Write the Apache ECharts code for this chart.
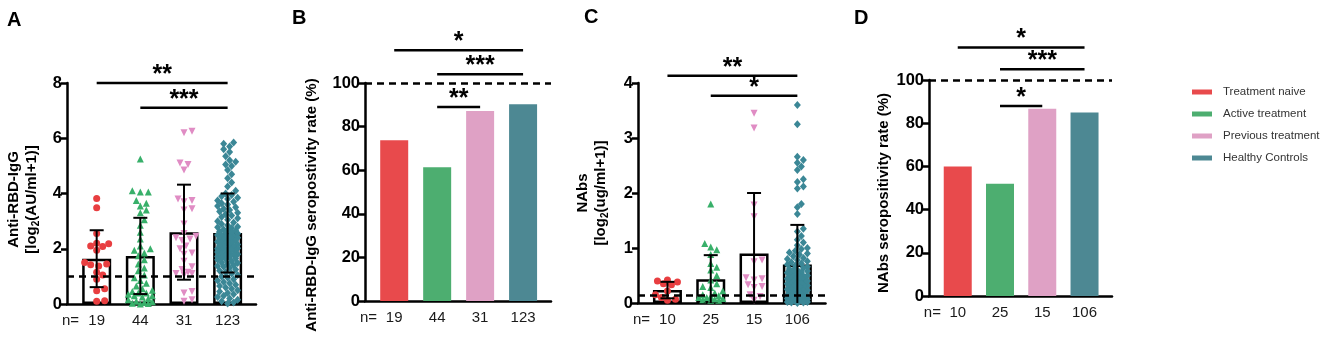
<!DOCTYPE html>
<html>
<head>
<meta charset="utf-8">
<script src="https://cdn.jsdelivr.net/npm/echarts@6/dist/echarts.min.js"></script>
<style>
  html, body { margin: 0; background: #fff; }
  #chart { width: 1325px; height: 337px; }
</style>
</head>
<body>
<div id="chart"></div>
<script>
// groups / legend
const groups = ['Treatment naive', 'Active treatment', 'Previous treatment', 'Healthy Controls'];
const barColors = ['#e84a4c', '#4dae70', '#dfa1c5', '#4d8893'];
const dotColors = ['#e83e40', '#38b06a', '#e08cc4', '#3b8796'];

// sample sizes
const nIgg = [19, 44, 31, 123];
const nNabs = [10, 25, 15, 106];

// A: anti-RBD-IgG, log2(AU/ml+1)
const iggNaive = [3.82, 3.48, 2.55, 2.2, 2.18, 2.1, 2.08, 1.95, 1.5, 1.45, 1.42, 1.38, 1.15, 1.05, 0.9, 0.55, 0.48, 0.12, 0.1];
const iggActive = [5.25, 4.1, 4.05, 4.05, 3.75, 3.65, 3.55, 3.4, 3.3, 3.05, 2.85, 2.6, 2.35, 2.1, 2.0,
  1.95, 1.85, 1.75, 1.6, 1.45, 1.3, 1.2, 1.05, 0.95, 0.85, 0.75, 0.65, 0.55, 0.5, 0.45,
  0.4, 0.4, 0.35, 0.3, 0.3, 0.25, 0.2, 0.15, 0.1, 0.08, 0.05, 0.03, 0.02, 0.0];
const iggPrevious = [6.25, 6.2, 5.1, 5.05, 4.85, 3.8, 3.75, 3.7, 3.45, 3.4, 2.9, 2.55, 2.45, 2.4, 2.35,
  2.3, 2.1, 2.0, 1.85, 1.8, 1.55, 1.35, 1.25, 1.15, 1.1, 1.1, 1.05, 0.45, 0.4, 0.15, 0.1];
const iggHealthy = [5.85, 5.8, 5.7, 5.6, 5.5, 5.35, 5.2, 5.15, 5.05, 5.0,
  4.85, 4.7, 4.55, 4.4, 4.25, 4.1, 4.0, 3.95, 3.9, 3.85,
  3.8, 3.75, 3.7, 3.65, 3.6, 3.55, 3.5, 3.45, 3.4, 3.35,
  3.3, 3.25, 3.2, 3.15, 3.1, 3.05, 3.0, 2.95, 2.9, 2.85,
  2.8, 2.78, 2.75, 2.7, 2.68, 2.65, 2.6, 2.58, 2.55, 2.5,
  2.48, 2.45, 2.42, 2.4, 2.38, 2.35, 2.32, 2.3, 2.28, 2.25,
  2.22, 2.2, 2.18, 2.15, 2.12, 2.1, 2.08, 2.05, 2.02, 2.0,
  1.98, 1.95, 1.92, 1.9, 1.88, 1.85, 1.82, 1.8, 1.78, 1.75,
  1.72, 1.7, 1.68, 1.65, 1.62, 1.6, 1.55, 1.5, 1.48, 1.45,
  1.4, 1.38, 1.35, 1.3, 1.25, 1.2, 1.15, 1.1, 1.05, 1.0,
  0.95, 0.9, 0.85, 0.8, 0.75, 0.7, 0.65, 0.6, 0.55, 0.5,
  0.45, 0.4, 0.35, 0.3, 0.25, 0.2, 0.15, 0.1, 0.05, 0.02,
  2.62, 2.44, 1.96];
const iggMean = [1.64, 1.74, 2.6, 2.57];
const iggSd = [1.03, 1.38, 1.72, 1.43];

// B: anti-RBD-IgG seropositivity (%)
const iggRate = [73.7, 61.4, 87.1, 90.2];

// C: NAbs, log2(ug/ml+1)
const nabsNaive = [0.42, 0.4, 0.38, 0.35, 0.33, 0.22, 0.15, 0.1, 0.07, 0.05];
const nabsActive = [1.8, 1.08, 1.02, 0.97, 0.88, 0.72, 0.65, 0.6, 0.5, 0.42, 0.35, 0.3, 0.28, 0.22, 0.18,
  0.15, 0.13, 0.12, 0.1, 0.1, 0.08, 0.07, 0.06, 0.05, 0.05];
const nabsPrevious = [3.45, 3.18, 1.78, 1.57, 0.78, 0.75, 0.46, 0.44, 0.42, 0.33, 0.3, 0.28, 0.15, 0.12, 0.05];
const nabsHealthy = [3.6, 3.25, 2.66, 2.6, 2.55, 2.48, 2.42, 2.25, 2.2, 2.12,
  2.08, 1.8, 1.74, 1.62, 1.35, 1.3, 1.22, 1.15, 1.1, 1.05,
  1.0, 0.98, 0.95, 0.92, 0.9, 0.88, 0.85, 0.82, 0.8, 0.78,
  0.76, 0.74, 0.72, 0.7, 0.68, 0.66, 0.64, 0.62, 0.6, 0.58,
  0.56, 0.55, 0.54, 0.52, 0.5, 0.49, 0.48, 0.47, 0.46, 0.45,
  0.44, 0.43, 0.42, 0.41, 0.4, 0.39, 0.38, 0.37, 0.36, 0.35,
  0.34, 0.33, 0.32, 0.31, 0.3, 0.29, 0.28, 0.27, 0.26, 0.25,
  0.24, 0.23, 0.22, 0.21, 0.2, 0.19, 0.18, 0.17, 0.16, 0.15,
  0.14, 0.13, 0.12, 0.11, 0.1, 0.09, 0.08, 0.07, 0.06, 0.05,
  0.05, 0.04, 0.04, 0.03, 0.03, 0.02, 0.02, 0.01, 0.01, 0.0,
  0.6, 0.5, 0.45, 0.4, 0.35, 0.3];
const nabsMean = [0.235, 0.43, 0.9, 0.7];
const nabsSd = [0.15, 0.44, 1.1, 0.72];

// D: NAbs seropositivity (%)
const nabsRate = [60, 52, 86.7, 84.9];

// cut-off lines
const cutIgg = 1;
const cutNabs = 0.15;
const cutRate = 100;

// significance brackets: [from group, to group, height]
const sigA = [[0, 3, 8], [1, 3, 7.1]];
const sigALabels = ['**', '***'];
const sigB = [[0, 3, 115], [1, 3, 104], [1, 2, 89]];
const sigBLabels = ['*', '***', '**'];
const sigC = [[0, 3, 4.13], [1, 3, 3.77]];
const sigCLabels = ['**', '*'];
const sigD = [[0, 3, 115], [1, 3, 105], [1, 2, 88]];
const sigDLabels = ['*', '***', '*'];

const FONT = 'Arial, "Liberation Sans", sans-serif';
const X_MIN = -0.68, X_MAX = 3.65;

// nameShift: extra right padding on the rotated axis title, moves it down the axis
const panels = [
  { letter: 'A', grid: { left: 67, top: 83, width: 189, height: 221 }, yMax: 8, yStep: 2, n: nIgg, nameGap: 26, nameShift: 12,
    name: '{b|Anti-RBD-IgG}\n{b|[log}{s|2}{b|(AU/ml+1)]}', title: { left: 7, top: 10 } },
  { letter: 'B', grid: { left: 365, top: 83, width: 186, height: 218 }, yMax: 100, yStep: 20, n: nIgg, nameGap: 44, nameShift: 26,
    name: 'Anti-RBD-IgG seropostivity rate (%)', title: { left: 292, top: 8 } },
  { letter: 'C', grid: { left: 638, top: 83, width: 187.5, height: 220 }, yMax: 4, yStep: 1, n: nNabs, nameGap: 28, nameShift: 0,
    name: '{b|NAbs}\n{b|[log}{s|2}{b|(ug/ml+1)]}', title: { left: 584, top: 7 } },
  { letter: 'D', grid: { left: 929, top: 80, width: 183, height: 216 }, yMax: 100, yStep: 20, n: nNabs, nameGap: 36, nameShift: 10,
    name: 'NAbs seropositivity rate (%)', title: { left: 854, top: 8 } }
];

// simple beeswarm: horizontal pixel offsets so dots do not pile up
function swarm(vals, pxPerY, pxPerX, gap, maxPx) {
  const placed = [];
  const out = new Array(vals.length);
  const order = vals.map((v, i) => i).sort((a, b) => vals[a] - vals[b]);
  order.forEach(i => {
    const y = vals[i] * pxPerY;
    let best = 0, bestD = -1;
    for (let k = 0; ; k++) {
      const off = (k % 2 ? 1 : -1) * Math.ceil(k / 2) * 2;
      if (Math.abs(off) > maxPx) break;
      let d = Infinity;
      placed.forEach(p => { d = Math.min(d, Math.hypot(p[0] - off, p[1] - y)); });
      if (d >= gap) { best = off; bestD = d; break; }
      if (d > bestD) { bestD = d; best = off; }
    }
    placed.push([best, y]);
    out[i] = best / pxPerX;
  });
  return out;
}

function renderErr(params, api) {
  const x = api.value(0);
  const top = api.coord([x, api.value(2)]);
  const bot = api.coord([x, api.value(1)]);
  const w = 7;
  const st = { stroke: '#000', lineWidth: 2 };
  return {
    type: 'group', children: [
      { type: 'line', shape: { x1: top[0], y1: top[1], x2: bot[0], y2: bot[1] }, style: st },
      { type: 'line', shape: { x1: top[0] - w, y1: top[1], x2: top[0] + w, y2: top[1] }, style: st },
      { type: 'line', shape: { x1: bot[0] - w, y1: bot[1], x2: bot[0] + w, y2: bot[1] }, style: st }
    ]
  };
}

function sigRenderer(labels) {
  return function (params, api) {
    const a = api.coord([api.value(0), api.value(2)]);
    const b = api.coord([api.value(1), api.value(2)]);
    return {
      type: 'group', children: [
        { type: 'line', shape: { x1: a[0], y1: a[1], x2: b[0], y2: b[1] }, style: { stroke: '#000', lineWidth: 2.5 } },
        { type: 'text', x: (a[0] + b[0]) / 2, y: a[1] - 8,
          style: { text: labels[params.dataIndex], align: 'center', verticalAlign: 'middle',
                   font: 'bold 25px ' + FONT, fill: '#000' } }
      ]
    };
  };
}

const grids = [], xAxes = [], yAxes = [], titles = [], series = [];

panels.forEach((p, k) => {
  grids.push(Object.assign({ containLabel: false }, p.grid));
  titles.push({ text: p.letter, left: p.title.left, top: p.title.top, padding: 0,
    textStyle: { fontSize: 20, fontWeight: 'bold', fontFamily: FONT, color: '#000' } });
  xAxes.push({
    type: 'value', gridIndex: k, min: X_MIN, max: X_MAX,
    axisLine: { onZero: false, lineStyle: { color: '#000', width: 2.5 } },
    axisTick: { show: false },
    splitLine: { show: false },
    axisLabel: {
      customValues: [-0.6, 0, 1, 2, 3],
      formatter: v => (v < 0 ? 'n=' : String(p.n[Math.round(v)])),
      margin: 9, fontSize: 15, color: '#1a1a1a', fontFamily: FONT
    }
  });
  yAxes.push({
    type: 'value', gridIndex: k, min: 0, max: p.yMax, interval: p.yStep,
    name: p.name, nameLocation: 'middle', nameGap: p.nameGap,
    nameTextStyle: {
      fontSize: 15, fontWeight: 'bold', fontFamily: FONT, color: '#000', lineHeight: 18,
      padding: [0, p.nameShift, 0, 0],
      rich: {
        b: { fontSize: 15, fontWeight: 'bold', fontFamily: FONT, color: '#000', lineHeight: 18 },
        s: { fontSize: 10, fontWeight: 'bold', fontFamily: FONT, color: '#000', verticalAlign: 'bottom', lineHeight: 10 }
      }
    },
    axisLine: { show: true, onZero: false, lineStyle: { color: '#000', width: 2.5 } },
    axisTick: { show: true, length: 6, lineStyle: { color: '#000', width: 2.5 } },
    axisLabel: { fontSize: 16.5, fontWeight: 'bold', color: '#000', fontFamily: FONT, margin: 5 },
    splitLine: { show: false }
  });
});

const dashed = (y) => ({
  silent: true, symbol: 'none', label: { show: false },
  lineStyle: { color: '#000', width: 2.5, type: [7, 5] },
  data: [{ yAxis: y }]
});

// A and C: mean bars + dots + SD error bars
[[0, [iggNaive, iggActive, iggPrevious, iggHealthy], iggMean, iggSd, cutIgg, sigA, sigALabels],
 [2, [nabsNaive, nabsActive, nabsPrevious, nabsHealthy], nabsMean, nabsSd, cutNabs, sigC, sigCLabels]
].forEach(([k, sets, means, sds, cut, sig, sigLabels]) => {
  const g = panels[k].grid;
  const pxY = g.height / panels[k].yMax;
  const pxX = g.width / (X_MAX - X_MIN);
  series.push({
    type: 'bar', xAxisIndex: k, yAxisIndex: k, barWidth: 29, z: 2,
    data: means.map((m, i) => [i, m]),
    itemStyle: { color: 'rgba(0,0,0,0)', borderColor: '#000', borderWidth: 2.5 },
    markLine: dashed(cut)
  });
  const symbols = ['circle', 'triangle', 'triangle', 'diamond'];
  const rot = [0, 0, 180, 0];
  sets.forEach((vals, i) => {
    const offs = swarm(vals, pxY, pxX, i === 3 ? 5 : 6.5, i === 3 ? 11 : 13);
    series.push({
      type: 'scatter', name: 'dots' + k + '-' + i, xAxisIndex: k, yAxisIndex: k, z: 3, clip: false,
      symbol: symbols[i], symbolRotate: rot[i], symbolSize: i === 3 ? [7, 8] : 7,
      itemStyle: { color: dotColors[i], opacity: 1 },
      data: vals.map((v, j) => [i + offs[j], v])
    });
  });
  series.push({
    type: 'custom', xAxisIndex: k, yAxisIndex: k, z: 4, clip: true,
    renderItem: renderErr, encode: { x: 0, y: [1, 2] },
    data: means.map((m, i) => [i, m - sds[i], m + sds[i]])
  });
  series.push({
    type: 'custom', xAxisIndex: k, yAxisIndex: k, z: 5, clip: false,
    renderItem: sigRenderer(sigLabels), encode: { x: [0, 1], y: 2 },
    data: sig
  });
});

// B and D: seropositivity rate bars, one series per group (feeds the legend)
[[1, iggRate, sigB, sigBLabels], [3, nabsRate, sigD, sigDLabels]].forEach(([k, rates, sig, sigLabels]) => {
  groups.forEach((name, i) => {
    series.push({
      type: 'bar', name: name, xAxisIndex: k, yAxisIndex: k, barWidth: 28, barGap: '-100%', z: 2,
      itemStyle: { color: barColors[i] },
      data: [[i, rates[i]]],
      markLine: i === 0 ? dashed(cutRate) : undefined
    });
  });
  series.push({
    type: 'custom', xAxisIndex: k, yAxisIndex: k, z: 5, clip: false,
    renderItem: sigRenderer(sigLabels), encode: { x: [0, 1], y: 2 },
    data: sig
  });
});

const chart = echarts.init(document.getElementById('chart'));
chart.setOption({
  animation: false,
  backgroundColor: '#fff',
  title: titles,
  grid: grids,
  xAxis: xAxes,
  yAxis: yAxes,
  legend: {
    data: groups, orient: 'vertical', left: 1192, top: 85, padding: 0,
    icon: 'rect', itemWidth: 20, itemHeight: 5, itemGap: 8,
    textStyle: { fontSize: 11.5, color: '#333', fontFamily: FONT, lineHeight: 14, padding: [0, 0, 0, 6] }
  },
  series: series
});
</script>
</body>
</html>
